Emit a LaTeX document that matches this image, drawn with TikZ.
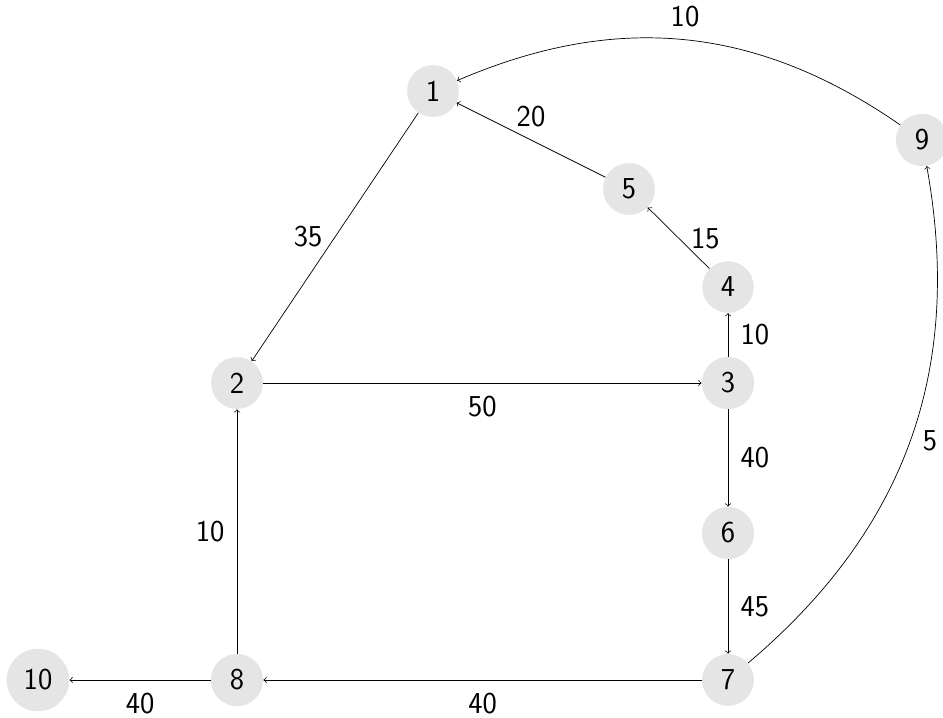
\documentclass[tikz,border=0pt]{standalone}
\usepackage{tikz}
\usetikzlibrary{arrows.meta}

\begin{document}
\begin{tikzpicture}[x=0.02cm, y=-0.02cm, font=\LARGE\sffamily, >=to,
  v/.style={circle, fill=black!10, inner sep=5.5pt},
  w/.style={inner sep=7pt}]
\useasboundingbox (0,0) rectangle (943,717);
\node[v] (n1) at (433,91) {1};
\node[v] (n2) at (237,383) {2};
\node[v] (n3) at (728,383) {3};
\node[v] (n4) at (728,287) {4};
\node[v] (n5) at (629,189) {5};
\node[v] (n6) at (728,533) {6};
\node[v] (n7) at (728,680) {7};
\node[v] (n8) at (237,680) {8};
\node[v] (n9) at (922,140) {9};
\node[v] (n10) at (38,680) {10};
\foreach \a/\b/\l/\p in {1/2/35/left, 5/1/20/above, 4/5/15/right, 3/4/10/right, 2/3/50/below,
  3/6/40/right, 6/7/45/right, 7/8/40/below, 8/2/10/left, 8/10/40/below}
  \draw[->] (n\a) -- node[w, \p] {\l} (n\b);
\draw[->] (n9) to[bend right=29] node[w, above] {10} (n1);
\draw[->] (n7) to[bend right=30] node[w, right] {5} (n9);
\end{tikzpicture}
\end{document}
